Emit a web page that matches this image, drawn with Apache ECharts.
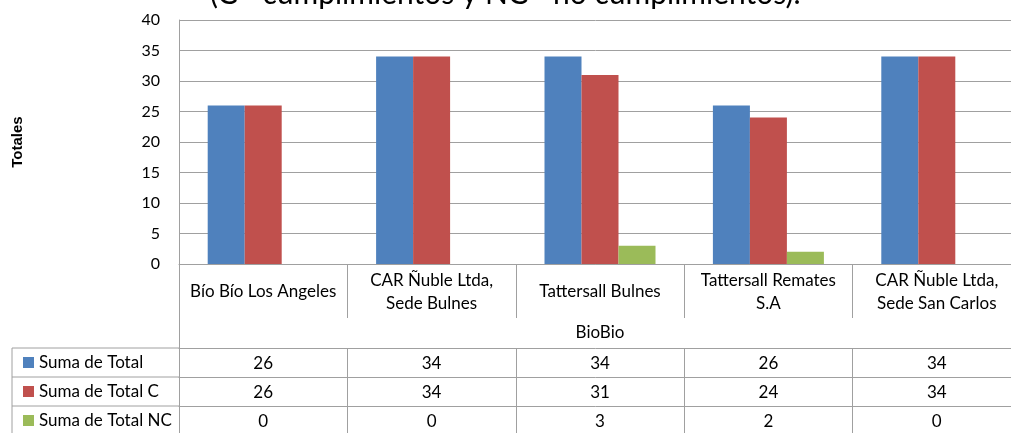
<!DOCTYPE html>
<html>
<head>
<meta charset="utf-8">
<script src="https://cdn.jsdelivr.net/npm/echarts@6/dist/echarts.min.js"></script>
<style>
  html, body { margin: 0; padding: 0; background: #fff; }
  #main { width: 1011px; height: 433px; }
</style>
</head>
<body>
<div id="main"></div>
<script>
// data
var categories = ['Bío Bío Los Angeles', 'CAR Ñuble Ltda,\nSede Bulnes', 'Tattersall Bulnes', 'Tattersall Remates\nS.A', 'CAR Ñuble Ltda,\nSede San Carlos'];
var regionNames = ['BioBio'];
var seriesNames = ['Suma de Total', 'Suma de Total C', 'Suma de Total NC'];
var sumaTotal = [26, 34, 34, 26, 34];
var sumaTotalC = [26, 34, 31, 24, 34];
var sumaTotalNC = [0, 0, 3, 2, 0];
var yMin = 0, yMax = 40, yStep = 5;

var colors = ['#4F81BD', '#C0504D', '#9BBB59'];
var lineGray = '#a0a0a0';
var font = 'Lato';
var rows = [sumaTotal, sumaTotalC, sumaTotalNC];

var myChart = echarts.init(document.getElementById('main'));

// one extra x axis per table row, its labels are the row values
var tableAxes = rows.map(function (row, r) {
  return {
    type: 'category',
    data: categories,
    position: 'bottom',
    offset: 84 + r * 29,
    axisLine: { show: true, lineStyle: { color: lineGray, width: 1 } },
    axisTick: { show: true, length: r === 2 ? 32 : 29, lineStyle: { color: lineGray } },
    axisLabel: {
      margin: 16, verticalAlign: 'middle', color: '#000', fontSize: 17, fontFamily: font,
      formatter: function (v, i) { return String(row[i]); }
    }
  };
});

// one legend per table row so each name sits in its own cell
var legends = seriesNames.map(function (name, r) {
  return {
    data: [name],
    left: 18, top: 349 + r * 29,
    itemWidth: 11, itemHeight: 11,
    icon: 'rect',
    textStyle: { fontSize: 17, color: '#000', fontFamily: font }
  };
});

var tableLines = [348, 377, 406].map(function (y) {
  return { type: 'line', shape: { x1: 12, y1: y, x2: 179, y2: y }, style: { stroke: lineGray, lineWidth: 1 } };
});
tableLines.push({ type: 'line', shape: { x1: 12, y1: 348, x2: 12, y2: 440 }, style: { stroke: lineGray, lineWidth: 1 } });

myChart.setOption({
  animation: false,
  color: colors,
  title: {
    text: '(C= cumplimientos y NC= no cumplimientos).',
    left: 205, top: -26,
    textStyle: { fontSize: 30, fontWeight: 'normal', color: '#000', fontFamily: font }
  },
  legend: legends,
  grid: { left: 179, top: 20, width: 842, height: 244, containLabel: false, outerBoundsMode: 'none' },
  xAxis: [
    {
      type: 'category',
      data: categories,
      position: 'bottom',
      axisLine: { show: true, lineStyle: { color: lineGray, width: 1 } },
      axisTick: { show: true, length: 54, lineStyle: { color: lineGray } },
      axisLabel: { margin: 28, verticalAlign: 'middle', lineHeight: 23, color: '#000', fontSize: 17, fontFamily: font, interval: 0 }
    },
    {
      type: 'category',
      data: regionNames,
      position: 'bottom',
      offset: 54,
      axisLine: { show: false },
      axisTick: { show: true, length: 30, lineStyle: { color: lineGray } },
      axisLabel: { margin: 15, verticalAlign: 'middle', color: '#000', fontSize: 17, fontFamily: font }
    }
  ].concat(tableAxes),
  yAxis: {
    type: 'value',
    min: yMin, max: yMax, interval: yStep,
    name: 'Totales',
    nameLocation: 'middle',
    nameGap: 154,
    nameRotate: 90,
    nameTextStyle: { fontSize: 15, fontWeight: 'bold', color: '#000', fontFamily: 'Liberation Sans' },
    axisLine: { show: true, lineStyle: { color: lineGray, width: 1 } },
    axisTick: { show: false },
    axisLabel: { margin: 19, color: '#000', fontSize: 16, fontFamily: font },
    splitLine: { lineStyle: { color: lineGray, width: 1 } }
  },
  graphic: tableLines,
  series: [
    { name: seriesNames[0], type: 'bar', data: sumaTotal, barWidth: 37, barGap: '0%' },
    { name: seriesNames[1], type: 'bar', data: sumaTotalC, barWidth: 37, barGap: '0%' },
    { name: seriesNames[2], type: 'bar', data: sumaTotalNC, barWidth: 37, barGap: '0%' }
  ]
});
</script>
</body>
</html>
